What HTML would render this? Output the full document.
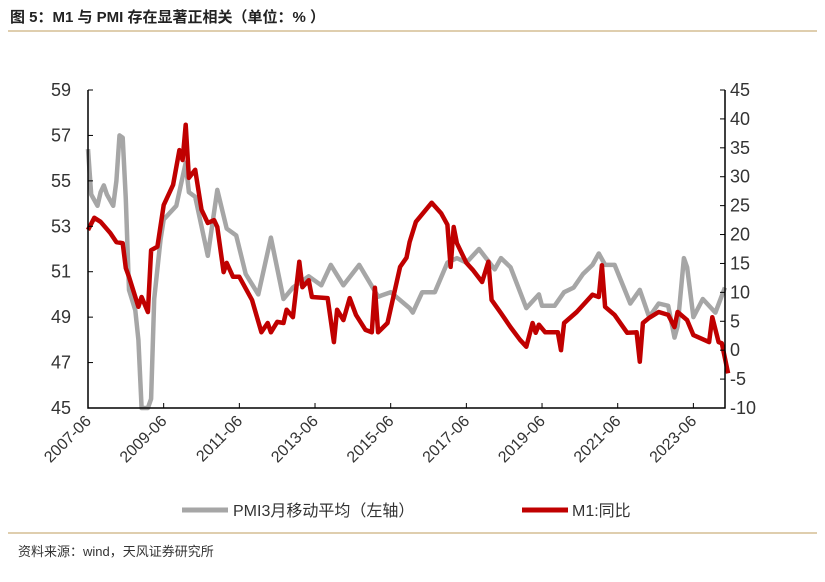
<!DOCTYPE html>
<html><head><meta charset="utf-8"><style>
body{margin:0;background:#fff;width:825px;height:577px;overflow:hidden;font-family:"Liberation Sans","Noto Sans CJK SC",sans-serif;}
</style></head><body>
<svg id="chart" width="825" height="577" xmlns="http://www.w3.org/2000/svg" font-family="Liberation Sans, Noto Sans CJK SC, sans-serif">
<text x="10" y="22" font-size="15" font-weight="bold" fill="#222">图 5：M1 与 PMI 存在显著正相关（单位：% ）</text>
<line x1="8" y1="31" x2="817" y2="31" stroke="#bf9d5c" stroke-width="1"/>
<g id="plot"></g>
<g>
<line x1="182" y1="510" x2="228" y2="510" stroke="#a6a6a6" stroke-width="5"/>
<text x="233" y="516" font-size="16" fill="#333">PMI3月移动平均（左轴）</text>
<line x1="522" y1="510" x2="568" y2="510" stroke="#c00000" stroke-width="5"/>
<text x="572" y="516" font-size="16" fill="#333">M1:同比</text>
</g>
<line x1="8" y1="533" x2="817" y2="533" stroke="#bf9d5c" stroke-width="1"/>
<text x="18" y="556" font-size="13" fill="#333">资料来源：wind，天风证券研究所</text>
</svg>
<script>
const xTickLabels=["2007-06","2009-06","2011-06","2013-06","2015-06","2017-06","2019-06","2021-06","2023-06"];
const leftTicks=[45,47,49,51,53,55,57,59];
const rightTicks=[-10,-5,0,5,10,15,20,25,30,35,40,45];
const pmiMonths=[0,1,3,4,5,6,8,9,10,11,12,13,15,16,17,19,20,21,23,24,28,31,32,34,38,41,44,47,50,54,58,62,65,70,74,77,81,86,92,96,102,103,106,110,114,117,120,124,129,131,134,139,143,144,148,151,154,157,160,162,164,167,172,175,178,181,184,186,187,189,190,192,195,199,202];
const pmiValues=[56.4,54.4,53.9,54.5,54.8,54.4,53.9,55.0,57.0,56.9,54.2,50.2,49.3,48.0,45.0,45.0,45.4,49.8,52.4,53.3,53.9,55.8,54.5,54.3,51.7,54.6,52.9,52.6,50.9,50.0,52.5,49.8,50.3,50.8,50.4,51.3,50.4,51.3,49.9,50.1,49.4,49.2,50.1,50.1,51.4,51.6,51.4,52.0,51.1,51.6,51.2,49.4,50.0,49.5,49.5,50.1,50.3,50.9,51.3,51.8,51.3,51.3,49.6,50.2,49.0,49.6,49.5,48.1,48.6,51.6,51.2,49.0,49.8,49.2,50.3];
const m1Months=[0,2,4,7,9,11,12,13,16,17,19,20,22,24,27,29,30,31,32,34,36,38,40,41,43,44,46,48,52,55,57,58,60,62,63,65,67,68,70,71,76,78,79,81,83,85,88,90,91,92,95,99,101,102,104,109,112,114,115,116,117,120,122,125,127,128,131,134,137,139,141,142,143,145,149,150,151,155,157,160,162,163,164,167,171,174,175,176,178,181,184,186,187,190,192,197,198,200,201,203];
const m1Values=[20.8,22.9,22.2,20.3,18.7,18.5,14.2,12.7,7.5,9.2,6.6,17.3,17.9,25.1,28.6,34.6,32.9,39.0,29.8,31.2,24.3,22.0,22.5,21.3,13.5,15.1,12.7,12.7,8.7,3.1,4.7,3.1,4.9,4.7,7.0,5.7,15.3,10.9,12.1,9.2,9.0,1.4,7.0,5.2,9.0,6.1,3.5,3.1,10.8,3.1,4.7,14.4,16.0,18.7,22.2,25.5,23.7,21.7,14.4,21.3,18.5,15.1,13.9,11.8,15.3,8.7,6.4,4.0,1.8,0.6,4.7,3.0,4.4,3.1,3.1,0.0,4.7,6.6,7.8,9.6,9.2,14.7,7.5,6.1,3.0,3.1,-2.0,4.7,5.6,6.6,6.1,4.0,6.6,5.2,2.6,1.4,5.7,1.4,1.2,-4.0];

const X0=88,X1=725,Y0=408,Y1=90;
const xScale=m=>X0+m*3.153;
const yLeft=v=>Y0-(v-45)/(59-45)*(Y0-Y1);
const yRight=v=>Y0-(v+10)/55*(Y0-Y1);
const NS="http://www.w3.org/2000/svg";
const g=document.getElementById('plot');
function mk(t,a){const e=document.createElementNS(NS,t);for(const k in a)e.setAttribute(k,a[k]);g.appendChild(e);return e;}

let d=pmiMonths.map((m,i)=>(i?'L':'M')+xScale(m).toFixed(1)+' '+yLeft(pmiValues[i]).toFixed(1)).join('');
const p1=mk('path',{d:d,fill:'none',stroke:'#a6a6a6','stroke-width':4.5,'stroke-linejoin':'round'});


d=m1Months.map((m,i)=>(i?'L':'M')+xScale(m).toFixed(1)+' '+yRight(m1Values[i]).toFixed(1)).join('');
const p2=mk('path',{d:d,fill:'none',stroke:'#c00000','stroke-width':4.5,'stroke-linejoin':'round'});



const ax=mk('path',{d:`M${X0} ${Y1}V${Y0}H${X1}V${Y1}`,fill:'none',stroke:'#000','stroke-width':1.5});


leftTicks.forEach(v=>{const y=yLeft(v);
 const t=mk('line',{x1:X0,x2:X0+5,y1:y,y2:y,stroke:'#000'});
 
 
 const l=mk('text',{x:X0-17,y:y+6,'text-anchor':'end','font-size':18,fill:'#333'});l.textContent=v;
 
 });
rightTicks.forEach(v=>{const y=yRight(v);
 const t=mk('line',{x1:X1-5,x2:X1,y1:y,y2:y,stroke:'#000'});
 
 
 const l=mk('text',{x:X1+5,y:y+6,'font-size':18,fill:'#333'});l.textContent=v;
 
 });
xTickLabels.forEach((s,i)=>{const x=xScale(i*24);
 const t=mk('line',{x1:x,x2:x,y1:Y0-5,y2:Y0,stroke:'#000'});
 
 
 const l=mk('text',{x:x+4,y:Y0+14,'text-anchor':'end','font-size':16,fill:'#333',transform:`rotate(-45 ${x+4} ${Y0+14})`});l.textContent=s;
 
 });
</script>
</body></html>
